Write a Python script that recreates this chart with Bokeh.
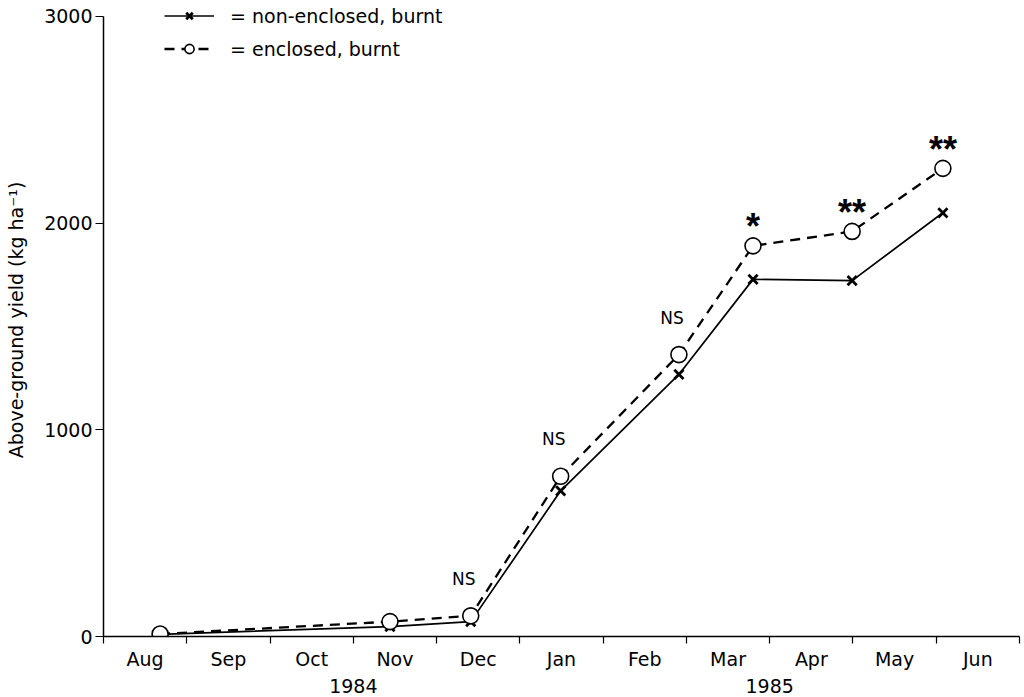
from bokeh.plotting import figure
from bokeh.models import (FixedTicker, LinearAxis, Legend, LegendItem, Range1d,
                          ColumnDataSource)
from bokeh.core.properties import value
from bokeh.embed import file_html
from bokeh.resources import INLINE

# ---- data ----
months = ["Aug", "Sep", "Oct", "Nov", "Dec", "Jan", "Feb", "Mar", "Apr", "May", "Jun"]
years = ["1984", "1985"]
sample_time = [0.68, 3.44, 4.41, 5.49, 6.91, 7.80, 8.99, 10.08]  # months after 1 Aug 1984
non_enclosed = [10, 48, 72, 705, 1268, 1728, 1722, 2050]
enclosed = [12, 72, 100, 775, 1364, 1890, 1960, 2265]
significance = ["", "", "NS", "NS", "NS", "*", "**", "**"]
y_ticks = [0, 1000, 2000, 3000]

FONT = "DejaVu Sans"
FS = "19px"

# headroom above 3000 so the legend (inside the frame) can sit level with the top tick
p = figure(width=1022, height=695, output_backend="svg", toolbar_location=None,
           x_range=Range1d(0, len(months)), y_range=Range1d(0, 3062.7),
           min_border_left=103, min_border_top=3, min_border_right=3, min_border_bottom=0)
p.outline_line_color = None
p.xgrid.visible = False
p.ygrid.visible = False
p.background_fill_color = "white"

src = ColumnDataSource(dict(t=sample_time, ne=non_enclosed, en=enclosed, sig=significance))
ns_src = ColumnDataSource(dict(
    t=[t for t, s in zip(sample_time, significance) if s == "NS"],
    en=[e for e, s in zip(enclosed, significance) if s == "NS"],
    sig=[s for s in significance if s == "NS"]))
st_src = ColumnDataSource(dict(
    t=[t for t, s in zip(sample_time, significance) if s.startswith("*")],
    en=[e for e, s in zip(enclosed, significance) if s.startswith("*")],
    sig=[s for s in significance if s.startswith("*")]))

l1 = p.line("t", "ne", source=src, line_color="black", line_width=1.7)
l2 = p.line("t", "en", source=src, line_color="black", line_width=2.3, line_dash="10 7")
s1 = p.scatter("t", "ne", source=src, marker="x", size=13, line_color="black", line_width=2.8)
s2 = p.scatter("t", "en", source=src, marker="circle", size=16, fill_color="white",
               line_color="black", line_width=1.6)

p.text("t", "en", text="sig", source=ns_src, text_font=value(FONT), text_font_size="17px",
       text_align="center", text_baseline="middle", x_offset=-7, y_offset=-37,
       text_color="black")
p.text("t", "en", text="sig", source=st_src, text_font=value("Liberation Sans"),
       text_font_size="36px", text_font_style="bold", text_align="center",
       text_baseline="middle", y_offset=-19, text_color="black")

# ---- y axis ----
ya = p.yaxis[0]
ya.ticker = FixedTicker(ticks=y_ticks)
ya.bounds = (0, 3000)
ya.axis_label = "Above-ground yield (kg ha\u207b\u00b9)"
ya.axis_label_text_font = FONT
ya.axis_label_text_font_style = "normal"
ya.axis_label_text_font_size = FS
ya.axis_label_standoff = 14
ya.major_label_text_font = FONT
ya.major_label_text_font_size = FS
ya.major_label_standoff = 3
ya.major_tick_out = 8
ya.major_tick_in = 0
ya.minor_tick_out = 0
ya.minor_tick_in = 0
ya.axis_line_width = 1.5
ya.major_tick_line_width = 1.2
for attr in ("axis_line_color", "major_tick_line_color", "major_label_text_color",
             "axis_label_text_color"):
    setattr(ya, attr, "black")

# ---- x axis: month labels between boundary ticks ----
xa = p.xaxis[0]
centers = [i + 0.5 for i in range(len(months))]
xa.ticker = FixedTicker(ticks=centers, minor_ticks=list(range(len(months) + 1)))
xa.major_label_overrides = {c: m for c, m in zip(centers, months)}
xa.major_tick_out = 0
xa.major_tick_in = 0
xa.minor_tick_out = 7
xa.minor_tick_in = 0
xa.minor_tick_line_color = "black"
xa.minor_tick_line_width = 1.2
xa.axis_line_width = 1.5
xa.axis_line_color = "black"
xa.major_label_text_font = FONT
xa.major_label_text_font_size = FS
xa.major_label_text_color = "black"
xa.major_label_standoff = 4

# ---- year axis ----
year_pos = [3, 8]
ya2 = LinearAxis(ticker=FixedTicker(ticks=year_pos))
ya2.major_label_overrides = {pos: y for pos, y in zip(year_pos, years)}
ya2.axis_line_color = None
ya2.major_tick_line_color = None
ya2.minor_tick_line_color = None
ya2.major_tick_out = 0
ya2.major_tick_in = 0
ya2.minor_tick_out = 0
ya2.minor_tick_in = 0
ya2.major_label_text_font = FONT
ya2.major_label_text_font_size = FS
ya2.major_label_text_color = "black"
ya2.major_label_standoff = 6
p.add_layout(ya2, "below")

# ---- legend ----
legend = Legend(items=[
    LegendItem(label="= non-enclosed, burnt", renderers=[l1, s1]),
    LegendItem(label="= enclosed, burnt", renderers=[l2, s2]),
], location=(61, 576))
legend.glyph_width = 50
legend.glyph_height = 23
legend.label_height = 23
legend.label_text_font = FONT
legend.label_text_font_size = "19px"
legend.label_text_color = "black"
legend.label_standoff = 16
legend.spacing = 10
legend.padding = 0
legend.margin = 0
legend.border_line_color = None
legend.background_fill_alpha = 0
p.add_layout(legend)

open("out.html", "w").write(file_html(p, INLINE))
